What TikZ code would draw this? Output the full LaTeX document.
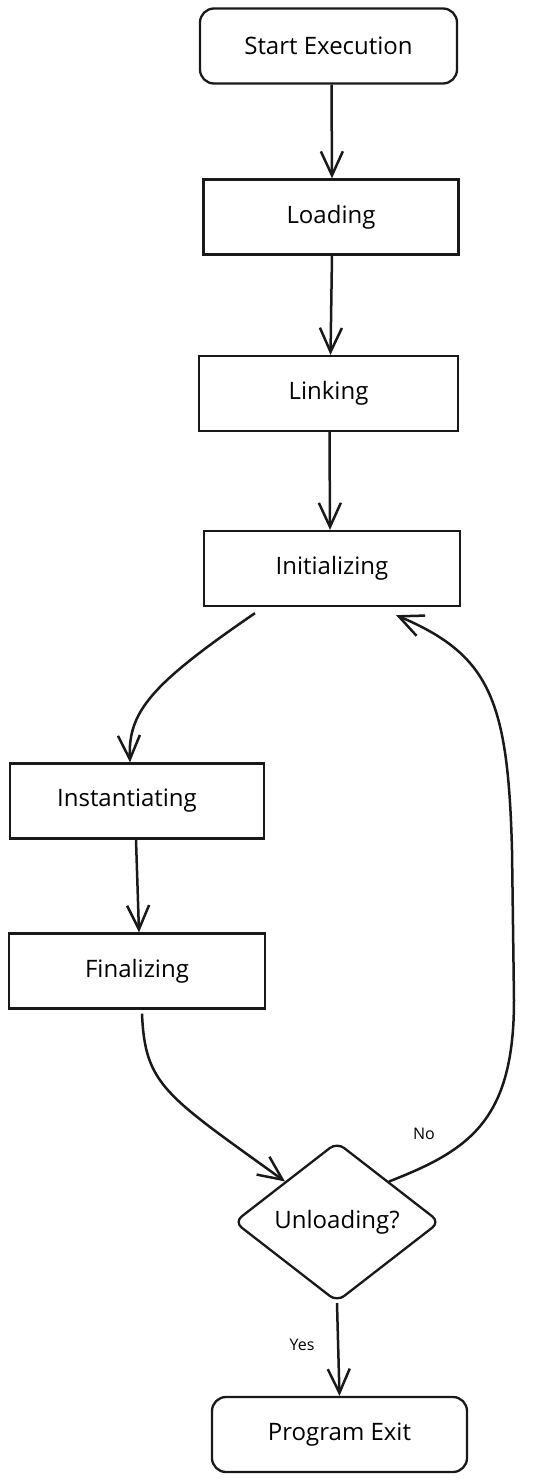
\documentclass[tikz,border=0pt]{standalone}
\usepackage{fontspec}
\setmainfont{Open Sans}
\usetikzlibrary{arrows.meta,shapes.geometric}
\begin{document}
\begin{tikzpicture}[x=1pt,y=1pt,
  box/.style={draw=black!90,line width=2.3pt,minimum height=75pt,inner sep=0pt,font=\fontsize{24}{28}\selectfont},
  rbox/.style={box,rounded corners=14pt},
  decision/.style={draw=black!90,line width=2.3pt,diamond,inner sep=0pt,minimum width=206pt,minimum height=160pt,rounded corners=9pt,font=\fontsize{24}{28}\selectfont},
  conn/.style={line width=2.5pt,draw=black!90,-{Straight Barb[length=24pt,width=22pt,line width=2.5pt]}},
  lbl/.style={font=\fontsize{16}{19}\selectfont}]
\useasboundingbox (0,0) rectangle (536,-1481);
\node[rbox,minimum width=257pt] (start) at (328.5,-46) {Start Execution};
\node[box,minimum width=255pt] (load) at (331,-217) {Loading};
\node[box,minimum width=259pt] (link) at (328.5,-393.5) {Linking};
\node[box,minimum width=256pt] (init) at (332,-568.5) {Initializing};
\node[box,minimum width=254pt] (inst) at (137,-801) {\hspace*{-20pt}Instantiating};
\node[box,minimum width=256pt] (fin) at (137,-971) {Finalizing};
\node[decision] (dia) at (337,-1222) {Unloading?};
\node[rbox,minimum width=255pt] (exit) at (339.5,-1434.5) {Program Exit};
\node[lbl] (no) at (424,-1134) {No};
\node[lbl] (yes) at (302,-1345) {Yes};

\draw[conn] ([xshift=3pt]start.south) -- ([xshift=1pt]load.north);
\draw[conn] ([xshift=1pt]load.south) -- ([xshift=2pt]link.north);
\draw[conn] ([xshift=1pt]link.south) -- ([xshift=-2pt]init.north);
\draw[conn] ([xshift=-77pt,yshift=-6pt]init.south) .. controls (150,-685) and (128,-712) .. ([xshift=-7pt]inst.north);
\draw[conn] ([xshift=-1pt]inst.south) -- ([xshift=2pt]fin.north);
\draw[conn] ([xshift=5pt,yshift=-4pt]fin.south) .. controls (145,-1085) and (165,-1095) .. (dia.north west);
\draw[conn] (dia.north east) .. controls (470,-1150) and (514,-1120) .. (514,-1000)
  -- (512,-850) .. controls (508,-700) and (490,-655) .. ([xshift=64pt,yshift=-8pt]init.south);
\draw[conn] (dia.south) -- (exit.north);
\end{tikzpicture}
\end{document}
